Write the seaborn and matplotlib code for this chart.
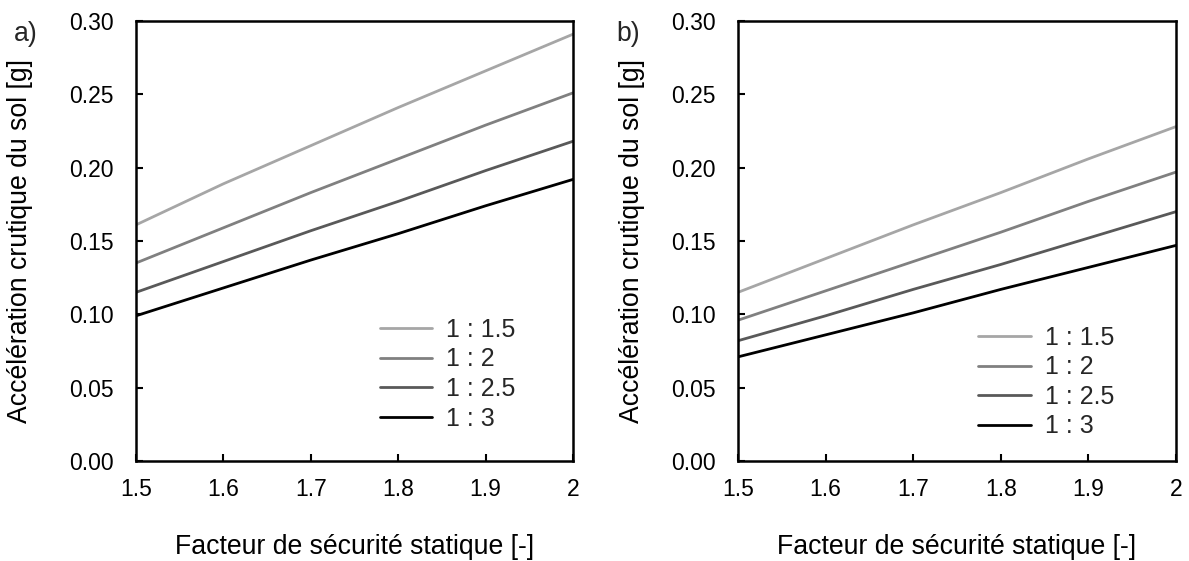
import numpy as np
import pandas as pd
import seaborn as sns
import matplotlib
matplotlib.use("Agg")
import matplotlib.pyplot as plt

sns.set_theme(style="white")
plt.rcParams['font.family'] = ['Liberation Sans', 'DejaVu Sans']

fs = [1.5, 1.6, 1.7, 1.8, 1.9, 2.0]
slopes = ["1 : 1.5", "1 : 2", "1 : 2.5", "1 : 3"]
colors = ["#a6a6a6", "#808080", "#595959", "#000000"]

# Panel a)
a_15 = [0.161, 0.189, 0.215, 0.241, 0.266, 0.291]
a_2 = [0.135, 0.159, 0.183, 0.206, 0.229, 0.251]
a_25 = [0.115, 0.136, 0.157, 0.177, 0.198, 0.218]
a_3 = [0.099, 0.118, 0.137, 0.155, 0.174, 0.192]

# Panel b)
b_15 = [0.115, 0.138, 0.161, 0.183, 0.206, 0.228]
b_2 = [0.096, 0.116, 0.136, 0.156, 0.177, 0.197]
b_25 = [0.082, 0.099, 0.117, 0.134, 0.152, 0.170]
b_3 = [0.071, 0.086, 0.101, 0.117, 0.132, 0.147]

xticks = [1.5, 1.6, 1.7, 1.8, 1.9, 2.0]
xticklabels = ["1.5", "1.6", "1.7", "1.8", "1.9", "2"]
yticks = [0.00, 0.05, 0.10, 0.15, 0.20, 0.25, 0.30]
yticklabels = ["0.00", "0.05", "0.10", "0.15", "0.20", "0.25", "0.30"]

ylabel = "Accélération crutique du sol [g]"
xlabel = "Facteur de sécurité statique [-]"


def long_df(series):
    rows = []
    for name, vals in zip(slopes, series):
        for x, y in zip(fs, vals):
            rows.append({"fs": x, "acc": y, "pente": name})
    return pd.DataFrame(rows)


fig = plt.figure(figsize=(11.89, 5.61), dpi=100)
ax_a = fig.add_axes([136/1189, 1-461/561, 437/1189, 440/561])
ax_b = fig.add_axes([738/1189, 1-461/561, 438/1189, 440/561])

TICK_FS = 16.5
LAB_FS = 19.2
LEG_FS = 18
panels = [
    (ax_a, [a_15, a_2, a_25, a_3], "a)", 14, (0.558, 0.325), -0.236),
    (ax_b, [b_15, b_2, b_25, b_3], "b)", 616, (0.548, 0.307), -0.212),
]
for ax, series, tag, tx, lpos, ylx in panels:
    df = long_df(series)
    sns.lineplot(data=df, x="fs", y="acc", hue="pente", hue_order=slopes,
                 palette=colors, linewidth=2, ax=ax)
    ax.set_xlim(1.5, 2.0)
    ax.set_ylim(0, 0.30)
    ax.set_xticks(xticks)
    ax.set_xticklabels(xticklabels)
    ax.set_yticks(yticks)
    ax.set_yticklabels(yticklabels)
    ax.tick_params(direction="in", length=5, width=1.5, labelsize=TICK_FS,
                   colors="black", left=True, bottom=True)
    ax.tick_params(axis="x", pad=12)
    ax.tick_params(axis="y", pad=16)
    for sp in ax.spines.values():
        sp.set_visible(True)
        sp.set_color("black")
        sp.set_linewidth(1.8)
    ax.set_xlabel(xlabel, fontsize=LAB_FS, color="black")
    ax.set_ylabel(ylabel, fontsize=LAB_FS, color="black")
    ax.xaxis.set_label_coords(0.5, -0.165)
    ax.yaxis.set_label_coords(ylx, 0.5)
    ax.legend(loc="upper left", bbox_to_anchor=lpos, frameon=False,
              fontsize=LEG_FS, handlelength=2.1, handletextpad=0.56,
              labelspacing=0.22, borderpad=0, borderaxespad=0)
    fig.text(tx/1189, 1-34/561, tag, fontsize=LAB_FS, va="center", ha="left")

fig.savefig("out.png", dpi=100)
